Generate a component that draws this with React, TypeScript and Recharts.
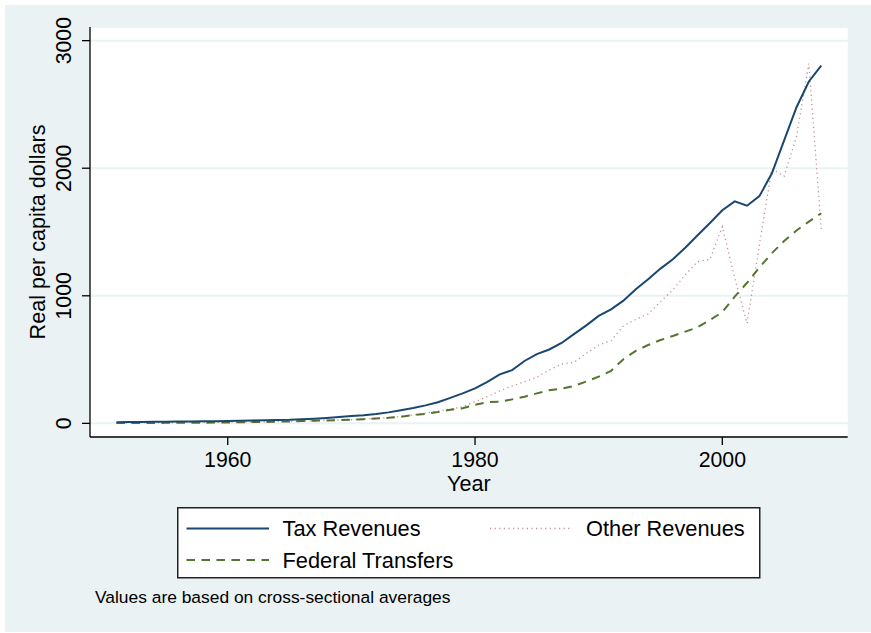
import { LineChart, Line, XAxis, YAxis, CartesianGrid, Label } from "recharts";

const years = [
  1951, 1952, 1953, 1954, 1955, 1956, 1957, 1958, 1959, 1960,
  1961, 1962, 1963, 1964, 1965, 1966, 1967, 1968, 1969, 1970,
  1971, 1972, 1973, 1974, 1975, 1976, 1977, 1978, 1979, 1980,
  1981, 1982, 1983, 1984, 1985, 1986, 1987, 1988, 1989, 1990,
  1991, 1992, 1993, 1994, 1995, 1996, 1997, 1998, 1999, 2000,
  2001, 2002, 2003, 2004, 2005, 2006, 2007, 2008,
];

const taxRevenues = [
  9, 10, 11, 12, 13, 14, 15, 16, 17, 19,
  21, 23, 25, 26, 28, 33, 37, 42, 49, 57,
  63, 73, 86, 102, 120, 141, 166, 200, 235, 274,
  325, 384, 417, 489, 543, 579, 630, 699, 768, 842,
  893, 962, 1051, 1129, 1213, 1286, 1377, 1474, 1571, 1670,
  1740, 1706, 1781, 1958, 2219, 2478, 2680, 2805,
];

const otherRevenues = [
  4, 5, 5, 6, 6, 7, 7, 8, 8, 9,
  10, 11, 12, 13, 15, 18, 20, 23, 26, 30,
  34, 39, 45, 54, 66, 80, 96, 112, 130, 170,
  209, 254, 293, 326, 361, 418, 465, 478, 549, 614,
  648, 765, 815, 857, 954, 1046, 1163, 1268, 1286, 1542,
  1140, 784, 1400, 1995, 1937, 2250, 2820, 1516,
];

const federalTransfers = [
  2, 2, 3, 3, 4, 4, 5, 5, 6, 7,
  8, 10, 11, 13, 15, 18, 20, 23, 26, 29,
  33, 38, 43, 52, 64, 75, 89, 106, 119, 145,
  166, 169, 188, 209, 235, 260, 272, 293, 328, 366,
  412, 503, 568, 614, 653, 685, 719, 753, 810, 872,
  993, 1102, 1222, 1333, 1430, 1512, 1581, 1647,
];

const yearTicks = [1960, 1980, 2000];
const valueTicks = [0, 1000, 2000, 3000];

const data = years.map((year, i) => ({
  year,
  tax: taxRevenues[i],
  other: otherRevenues[i],
  federal: federalTransfers[i],
}));

const FONT = "'Liberation Sans', Arial, Helvetica, sans-serif";
const NAVY = "#1A476F";
const MAROON = "#90353B";
const GREEN = "#55752F";
const BG = "#EAF2F3";

function YearTick({ x, y, payload }: any) {
  return (
    <text x={x} y={y} dy={15.5} textAnchor="middle" fontSize={21.3} fontFamily={FONT} fill="#000">
      {payload.value}
    </text>
  );
}

function ValueTick({ x, y, payload }: any) {
  return (
    <text
      x={x}
      y={y}
      transform={`rotate(-90, ${x}, ${y})`}
      textAnchor="middle"
      fontSize={21.3}
      fontFamily={FONT}
      fill="#000"
    >
      {payload.value}
    </text>
  );
}

function YTitle({ viewBox }: any) {
  const cx = viewBox.x + 45;
  const cy = viewBox.y + viewBox.height / 2;
  return (
    <text x={cx} y={cy} transform={`rotate(-90, ${cx}, ${cy})`} textAnchor="middle" fontSize={21.6} fontFamily={FONT} fill="#000">
      Real per capita dollars
    </text>
  );
}

function XTitle({ viewBox }: any) {
  return (
    <text x={viewBox.x + viewBox.width / 2} y={viewBox.y + 54} textAnchor="middle" fontSize={21.6} fontFamily={FONT} fill="#000">
      Year
    </text>
  );
}

function KeyBox() {
  const textStyle = { fontSize: 21.8, fontFamily: FONT, fill: "#000" };
  return (
    <svg width={584} height={72} style={{ position: "absolute", left: 177, top: 507 }}>
      <rect x={0.75} y={0.75} width={582} height={70} fill="#fff" stroke="#222" strokeWidth={1.5} />
      <line x1={9.5} x2={92} y1={21.5} y2={21.5} stroke={NAVY} strokeWidth={2} />
      <text x={105.5} y={29} {...textStyle}>Tax Revenues</text>
      <line x1={313} x2={396} y1={21.5} y2={21.5} stroke={MAROON} strokeOpacity={0.55} strokeWidth={1.3} strokeDasharray="1.2 3.4" />
      <text x={409} y={29} {...textStyle}>Other Revenues</text>
      <line x1={9.5} x2={92} y1={53} y2={53} stroke={GREEN} strokeWidth={2} strokeDasharray="8.5 6.5" />
      <text x={105.5} y={60.5} {...textStyle}>Federal Transfers</text>
    </svg>
  );
}

export default function App() {
  return (
    <div style={{ position: "absolute", left: 0, top: 0, width: 871, height: 633, background: "#fff", overflow: "hidden" }}>
      <div style={{ position: "absolute", left: 5, top: 5, width: 866, height: 627, background: BG }} />
      <div style={{ position: "absolute", left: 0, top: 0 }}>
        <LineChart width={871} height={633} data={data} margin={{ top: 27, right: 23.3, left: 0, bottom: 136 }}>
          <CartesianGrid vertical={false} fill="#fff" stroke={BG} strokeWidth={2} />
          <XAxis
            dataKey="year"
            type="number"
            domain={[1948.86, 2010.14]}
            ticks={yearTicks}
            allowDataOverflow
            height={60}
            tickSize={8}
            tickMargin={6}
            tick={<YearTick />}
            axisLine={{ stroke: "#000", strokeWidth: 1.3 }}
            tickLine={{ stroke: "#000", strokeWidth: 1.3 }}
          >
            <Label content={<XTitle />} />
          </XAxis>
          <YAxis
            type="number"
            domain={[-107, 3107]}
            ticks={valueTicks}
            allowDataOverflow
            width={90}
            tickSize={8}
            tickMargin={10.5}
            tick={<ValueTick />}
            axisLine={{ stroke: "#000", strokeWidth: 1.3 }}
            tickLine={{ stroke: "#000", strokeWidth: 1.3 }}
          >
            <Label content={<YTitle />} />
          </YAxis>
          <Line
            type="linear"
            dataKey="federal"
            stroke={GREEN}
            strokeWidth={2}
            strokeDasharray="8.5 6.5"
            dot={false}
            isAnimationActive={false}
          />
          <Line
            type="linear"
            dataKey="other"
            stroke={MAROON}
            strokeOpacity={0.55}
            strokeWidth={1.3}
            strokeDasharray="1.2 3.4"
            dot={false}
            isAnimationActive={false}
          />
          <Line
            type="linear"
            dataKey="tax"
            stroke={NAVY}
            strokeWidth={2}
            dot={false}
            isAnimationActive={false}
          />
        </LineChart>
      </div>
      <KeyBox />
      <div style={{ position: "absolute", left: 95, top: 587, fontSize: 17.4, fontFamily: FONT, color: "#000", whiteSpace: "nowrap", lineHeight: "20px" }}>
        Values are based on cross-sectional averages
      </div>
    </div>
  );
}
